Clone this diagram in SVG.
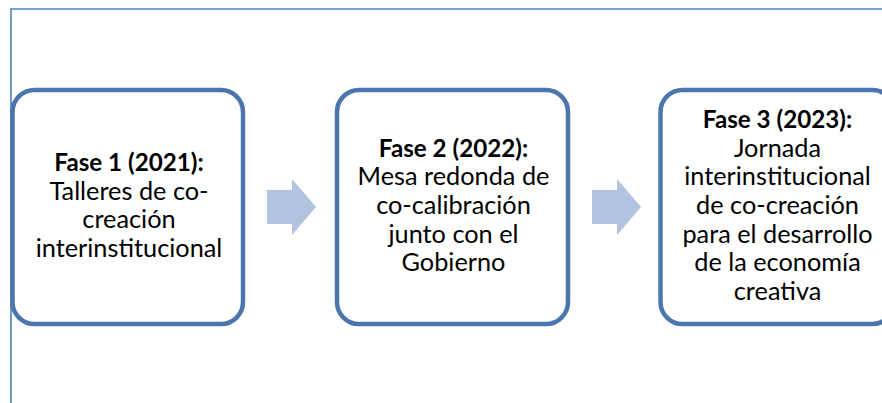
<svg xmlns="http://www.w3.org/2000/svg" width="882" height="403" viewBox="0 0 882 403">
<style>
.frame{fill:none;stroke:#4F81BD;stroke-width:1.6}
.box{fill:#FFFFFF;stroke:#4A76AD;stroke-width:4.5}
.arrow{fill:#B1C3DE;stroke:none}
text{font-family:Lato,"Liberation Sans",sans-serif;font-size:25.3px;fill:#000;text-anchor:middle}
.b{font-weight:bold;font-size:24.2px}
</style>
<rect width="882" height="403" fill="#FFFFFF"/>
<g id="frame">
<path class="frame" d="M11,403 V9 H882"/>
</g>
<g id="connectors">
<polygon class="arrow" points="267,190 292,190 292,179 316,207 292,235 292,224 267,224"/>
<polygon class="arrow" points="592,190 617,190 617,179 641,207 617,235 617,224 592,224"/>
</g>
<g id="fase1">
<rect class="box" x="12.5" y="90" width="230.5" height="234" rx="22"/>
<text x="129" y="171"><tspan class="b">Fase 1 (2021):</tspan><tspan x="129" dy="28.7">Talleres de co-</tspan><tspan x="129" dy="28.7">creación</tspan><tspan x="129" dy="28.7">interinstitucional</tspan></text>
</g>
<g id="fase2">
<rect class="box" x="337" y="90" width="231" height="234" rx="22"/>
<text x="453.5" y="156.6"><tspan class="b">Fase 2 (2022):</tspan><tspan x="453.5" dy="28.7">Mesa redonda de</tspan><tspan x="453.5" dy="28.7">co-calibración</tspan><tspan x="453.5" dy="28.7">junto con el</tspan><tspan x="453.5" dy="28.7">Gobierno</tspan></text>
</g>
<g id="fase3">
<rect class="box" x="660.5" y="90" width="234" height="234" rx="22"/>
<text x="777.5" y="127.9"><tspan class="b">Fase 3 (2023):</tspan><tspan x="777.5" dy="28.7">Jornada</tspan><tspan x="777.5" dy="28.7">interinstitucional</tspan><tspan x="777.5" dy="28.7">de co-creación</tspan><tspan x="777.5" dy="28.7">para el desarrollo</tspan><tspan x="777.5" dy="28.7">de la economía</tspan><tspan x="777.5" dy="28.7">creativa</tspan></text>
</g>
</svg>
